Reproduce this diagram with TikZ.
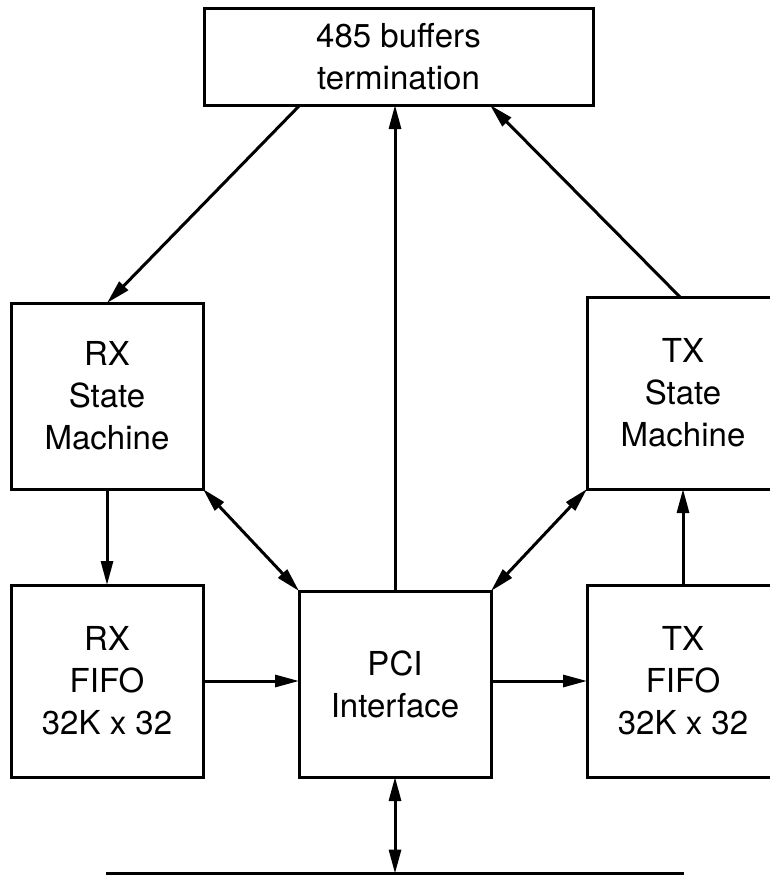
\documentclass[tikz,border=0pt]{standalone}
\usepackage{fontspec}
\setmainfont{TeX Gyre Heros}
\usetikzlibrary{arrows.meta,calc}
\begin{document}
\begin{tikzpicture}[x=1pt,y=1pt,
  blk/.style={draw,line width=3pt,inner sep=0pt,outer sep=0pt,align=center,
    font=\fontsize{33}{42}\selectfont},
  conn/.style={line width=3pt,-{Triangle[length=24pt,width=12pt]}},
  bconn/.style={line width=3pt,{Triangle[length=24pt,width=12pt]}-{Triangle[length=24pt,width=12pt]}}]
\useasboundingbox (0,0) rectangle (769,-875);
\node[blk,minimum width=389,minimum height=96] (top) at (398.5,-57) {485 buffers\\termination};
\node[blk,minimum width=192,minimum height=186] (rxsm) at (107,-396) {RX\\State\\Machine};
\node[blk,minimum width=192,minimum height=192] (rxfifo) at (107,-681) {RX\\FIFO\\32K x 32};
\node[blk,minimum width=192,minimum height=186] (pci) at (395,-684) {PCI\\Interface};
\node[blk,minimum width=192,minimum height=192] (txsm) at (683,-393) {TX\\State\\Machine};
\node[blk,minimum width=192,minimum height=192] (txfifo) at (683,-681) {TX\\FIFO\\32K x 32};
\coordinate (busl) at (106,-873.5);
\coordinate (busr) at (684,-873.5);
\coordinate (busm) at (395,-873.5);
\draw[line width=3pt] (busl) -- (busr);
\draw[conn] ([xshift=96pt]top.south west) -- (rxsm.north);
\draw[conn] (pci.north) -- (pci.north |- top.south);
\draw[conn] ([xshift=-3pt]txsm.north) -- ([xshift=-103pt]top.south east);
\draw[conn] (rxsm.south) -- (rxfifo.north);
\draw[bconn] (rxsm.south east) -- (pci.north west);
\draw[bconn] (txsm.south west) -- (pci.north east);
\draw[conn] (txfifo.north) -- (txsm.south);
\draw[conn] (rxfifo.east) -- (rxfifo.east -| pci.west);
\draw[conn] (pci.east |- txfifo.west) -- (txfifo.west);
\draw[bconn] (pci.south) -- (busm);
\end{tikzpicture}
\end{document}
